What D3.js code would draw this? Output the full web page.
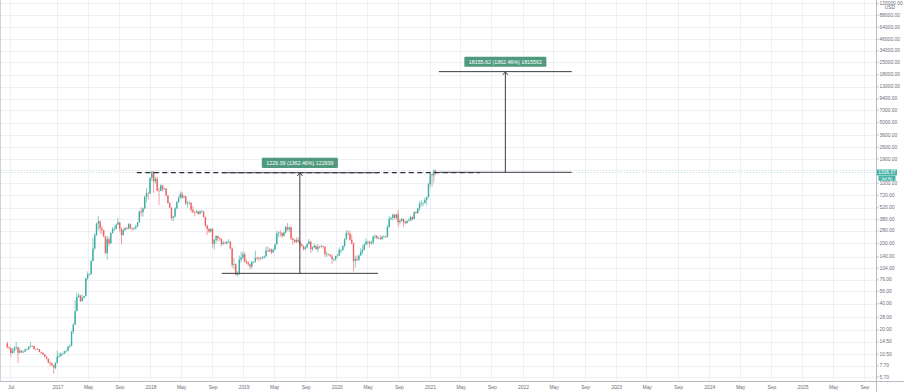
<!DOCTYPE html>
<html><head><meta charset="utf-8">
<script src="https://cdn.jsdelivr.net/npm/d3@7"></script>
<style>html,body{margin:0;padding:0;background:#fff;overflow:hidden}</style>
</head><body><svg id="c" width="904" height="392"></svg>
<script>
// ---------- DATA (ETHUSD weekly, [open, high, low, close]) ----------
const firstWeek = "2016-06-20";
const ohlc2016 = [
[14.0,14.6,12.2,12.6],[12.6,13.0,11.8,12.4],[12.4,12.4,9.8,10.8],[10.8,12.3,10.6,11.5],
[11.5,13.0,10.8,12.3],[12.3,14.5,11.8,12.6],[12.6,12.8,8.3,10.9],[10.9,12.3,10.7,11.5],
[11.5,11.7,10.8,11.0],[11.0,11.5,10.8,11.2],[11.2,12.2,11.0,11.8],[11.8,12.2,11.6,11.9],
[11.9,13.0,11.8,12.8],[12.8,14.5,12.5,13.1],[13.1,13.3,12.8,13.0],[13.0,13.1,11.8,12.0],
[12.0,12.2,11.7,11.9],[11.9,12.3,11.8,12.0],[12.0,12.0,11.0,11.1],[11.1,11.2,10.4,10.9],
[10.9,11.0,10.2,10.4],[10.4,10.5,9.6,9.8],[9.8,9.9,9.1,9.3],[9.3,9.3,8.2,8.4],
[8.4,8.6,7.6,8.2],[8.2,8.3,7.6,7.8],[7.8,7.9,6.2,7.3],[7.3,8.5,7.0,8.3]];
const ohlc2017 = [
[8.3,11.5,8.2,9.8],[9.8,10.8,9.5,9.9],[9.9,11.0,9.8,10.6],[10.6,10.8,10.4,10.6],
[10.6,11.5,10.6,11.3],[11.3,11.6,10.9,11.4],[11.4,13.0,11.3,12.8],[12.8,13.5,12.4,13.1],
[13.1,19.5,13.0,19.0],[19.0,24.0,18.0,23.0],[23.0,44.0,23.0,33.0],[33.0,54.0,33.0,48.0],
[48.0,53.0,47.0,50.0],[50.0,51.0,42.0,43.0],[43.0,51.0,43.0,47.0],[47.0,49.0,46.0,49.0],
[49.0,80.0,49.0,79.0],[79.0,95.0,75.0,88.0],[88.0,90.0,85.0,88.0],[88.0,130.0,88.0,125.0],
[125.0,230.0,125.0,175.0],[175.0,265.0,170.0,250.0],[250.0,345.0,245.0,340.0],[340.0,415.0,285.0,360.0],
[360.0,370.0,260.0,300.0],[300.0,320.0,255.0,285.0],[285.0,290.0,235.0,240.0],[240.0,245.0,150.0,155.0],
[155.0,245.0,130.0,225.0],[225.0,240.0,185.0,200.0],[200.0,270.0,200.0,265.0],[265.0,310.0,260.0,295.0],
[295.0,320.0,280.0,295.0],[295.0,340.0,290.0,330.0],[330.0,395.0,330.0,350.0],[350.0,355.0,270.0,295.0],
[295.0,305.0,195.0,250.0],[250.0,300.0,250.0,285.0],[285.0,310.0,280.0,300.0],[300.0,310.0,290.0,297.0],
[297.0,345.0,295.0,335.0],[335.0,340.0,290.0,300.0],[300.0,305.0,280.0,298.0],[298.0,310.0,285.0,300.0],
[300.0,330.0,290.0,315.0],[315.0,355.0,310.0,350.0],[350.0,480.0,350.0,470.0],[470.0,525.0,410.0,460.0],
[460.0,520.0,410.0,510.0],[510.0,720.0,500.0,690.0],[690.0,880.0,600.0,760.0],[760.0,790.0,640.0,755.0]];
const ohlc2018 = [
[755,1160,750,1150],[1150,1375,1050,1360],[1360,1370,770,1050],[1050,1180,990,1120],
[1120,1180,810,815],[815,880,560,810],[810,970,810,940],[940,950,800,855],
[855,885,830,860],[860,880,700,720],[720,730,580,590],[590,600,510,520],
[520,525,370,395],[395,420,360,410],[410,530,400,510],[510,620,500,600],
[600,715,590,670],[670,800,660,750],[750,790,660,680],[680,720,670,700],
[700,710,560,580],[580,620,520,580],[580,625,570,590],[590,600,460,490],
[490,545,450,460],[460,470,410,455],[455,490,450,470],[470,480,430,440],
[440,485,435,470],[470,490,455,470],[470,470,400,405],[405,410,310,320],
[320,330,250,295],[295,300,265,275],[275,300,270,295],[295,300,180,198],
[198,225,170,220],[220,250,200,245],[245,245,210,230],[230,235,215,225],
[225,230,185,196],[196,215,195,204],[204,210,198,200],[200,212,195,210],
[210,225,205,210],[210,212,170,175],[175,180,105,113],[113,135,100,115],
[115,118,85,87],[87,95,83,88],[88,145,87,130],[130,160,120,138],[138,162,130,150]];
const ohlc2019 = [
[150,160,120,125],[125,130,115,120],[120,125,110,115],[115,117,100,108],
[108,125,102,122],[122,125,118,123],[123,165,120,136],[136,140,130,135],
[135,140,125,133],[133,140,130,135],[135,142,132,138],[138,145,133,142],
[142,185,140,165],[165,185,160,162],[162,178,160,170],[170,175,150,158],
[158,175,155,170],[170,200,168,195],[195,280,195,262],[262,275,235,268],
[268,285,240,265],[265,270,230,245],[245,275,240,268],[268,320,260,310],
[310,345,280,290],[290,315,270,307],[307,315,220,228],[228,235,195,220],
[220,225,205,207],[207,235,204,220],[220,235,205,210],[210,215,178,195],
[195,200,185,187],[187,190,165,172],[172,185,168,180],[180,200,175,197],
[197,225,195,210],[210,215,155,172],[172,185,163,180],[180,200,178,188],
[188,190,170,172],[172,198,158,183],[183,190,175,182],[182,195,180,185],
[185,190,175,183],[183,185,140,150],[150,160,140,151],[151,152,145,148],
[148,150,140,142],[142,150,116,132],[132,135,124,132],[132,145,125,143]];
const ohlc2020 = [
[143,150,138,145],[145,180,143,168],[168,172,155,168],[168,190,165,188],
[188,230,180,225],[225,285,220,265],[265,285,245,260],[260,280,215,220],
[220,255,195,200],[200,205,95,125],[125,145,105,133],[133,145,125,130],
[130,150,125,145],[145,175,145,160],[160,190,150,170],[170,200,165,195],
[195,230,190,210],[210,215,195,210],[210,215,180,200],[200,215,195,205],
[205,245,195,240],[240,255,225,245],[245,250,225,230],[230,240,225,230],
[230,250,220,225],[225,245,220,240],[240,250,235,240],[240,245,230,238],
[238,330,235,310],[310,415,305,385],[385,405,370,395],[395,445,370,430],
[430,440,385,395],[395,440,375,435],[435,490,310,352],[352,385,330,365],
[365,395,360,385],[385,390,310,355],[355,370,335,345],[345,375,338,365],
[365,395,360,368],[368,420,365,405],[405,412,370,385],[385,470,380,460],
[460,480,440,450],[450,520,440,510],[510,620,480,575],[575,635,535,585],
[585,600,540,590],[590,680,575,640],[640,700,550,685],[685,1010,680,975]];
const ohlc2021 = [
[975,1350,890,1268],[1268,1290,920,1230],[1230,1440,1010,1390],[1390,1440,1250,1326]];

const yTickValues = [120000,88000,64000,46000,34000,25000,18000,13000,9400,7000,5000,3600,2600,1900,1400,1000,720,520,380,280,200,140,104,76,56,40,28,20,14.5,10.5,7.7,5.7];
const yTicksCovered = [1400]; // hidden behind the last-price tag
const xTickDates = ["2016-07-01",
 "2017-01-01","2017-05-01","2017-09-01","2018-01-01","2018-05-01","2018-09-01",
 "2019-01-01","2019-05-01","2019-09-01","2020-01-01","2020-05-01","2020-09-01",
 "2021-01-01","2021-05-01","2021-09-01","2022-01-01","2022-05-01","2022-09-01",
 "2023-01-01","2023-05-01","2023-09-01","2024-01-01","2024-05-01","2024-09-01",
 "2025-01-01","2025-05-01","2025-09-01"];
const xTickLabels = ["Jul","2017","May","Sep","2018","May","Sep","2019","May","Sep",
 "2020","May","Sep","2021","May","Sep","2022","May","Sep","2023","May","Sep",
 "2024","May","Sep","2025","May","Sep"];
const currency = "USD";
const lastPrice = 1326.37;
const countdown = "5d 9h";
const dashedLevel = {from:"2017-11-10", to:"2021-07-17", price:1319.62};
const range1 = {from:"2018-10-09", to:"2020-06-13", low:90.23, high:1319.62, label:"1229.39 (1362.46%) 122939"};
const range2 = {from:"2021-02-07", to:"2022-07-13", low:1332.55, high:19488.17, label:"18155.62 (1362.46%) 1815562"};

// ---------- BUILD ----------
const parse = d3.utcParse("%Y-%m-%d");
const allRows = [].concat(ohlc2016, ohlc2017, ohlc2018, ohlc2019, ohlc2020, ohlc2021);
const start = parse(firstWeek);
const candles = allRows.map((r,i)=>({date:d3.utcWeek.offset(start,i), o:r[0], h:r[1], l:r[2], c:r[3]}));

const W = 904, H = 392, plotR = 876, plotB = 381;
const x = d3.scaleUtc().domain([parse("2017-01-01"), parse("2025-01-01")]).range([57, 802]);
const y = d3.scaleLog().domain([5.7, 1900]).range([377, 159]);

const svg = d3.select("#c");
const font = "'Liberation Sans', Arial, sans-serif";
svg.append("rect").attr("width",W).attr("height",H).attr("fill","#fff");

const defs = svg.append("defs");
defs.append("clipPath").attr("id","plot").append("rect").attr("x",0).attr("y",0).attr("width",plotR).attr("height",plotB);

// grid
const grid = svg.append("g").attr("clip-path","url(#plot)");
grid.selectAll("line.h").data(yTickValues).join("line")
  .attr("x1",0).attr("x2",plotR).attr("y1",d=>Math.round(y(d))+0.5).attr("y2",d=>Math.round(y(d))+0.5)
  .attr("stroke","#eef0f4").attr("stroke-width",1);
grid.selectAll("line.v").data(xTickDates).join("line")
  .attr("y1",0).attr("y2",plotB).attr("x1",d=>Math.round(x(parse(d)))+0.5).attr("x2",d=>Math.round(x(parse(d)))+0.5)
  .attr("stroke","#eef0f4").attr("stroke-width",1);

// axes lines
svg.append("line").attr("x1",0.5).attr("x2",0.5).attr("y1",0).attr("y2",plotB).attr("stroke","#cfd2d8");
svg.append("line").attr("x1",0).attr("x2",W).attr("y1",plotB+0.5).attr("y2",plotB+0.5).attr("stroke","#b8bbc2");
svg.append("line").attr("x1",plotR+0.5).attr("x2",plotR+0.5).attr("y1",0).attr("y2",H).attr("stroke","#b8bbc2");

// last price line
const plot = svg.append("g").attr("clip-path","url(#plot)");
plot.append("line").attr("x1",0).attr("x2",plotR).attr("y1",y(lastPrice)).attr("y2",y(lastPrice))
  .attr("stroke","#26a69a").attr("stroke-opacity",0.3).attr("stroke-dasharray","1 2").attr("stroke-width",1);

// candles
const up = "#26a69a", down = "#ef5350";
const cg = plot.append("g").attr("opacity",0.9);
cg.selectAll("line.wick").data(candles).join("line")
  .attr("x1",d=>x(d.date)).attr("x2",d=>x(d.date))
  .attr("y1",d=>y(d.h)).attr("y2",d=>y(d.l))
  .attr("stroke",d=>d.c>=d.o?up:down).attr("stroke-width",0.6);
cg.selectAll("rect.body").data(candles).join("rect")
  .attr("x",d=>x(d.date)-0.7).attr("width",1.4)
  .attr("y",d=>y(Math.max(d.o,d.c)))
  .attr("height",d=>Math.max(0.6, y(Math.min(d.o,d.c))-y(Math.max(d.o,d.c))))
  .attr("fill",d=>d.c>=d.o?up:down);

// dashed level
plot.append("line")
  .attr("x1",x(parse(dashedLevel.from))).attr("x2",x(parse(dashedLevel.to)))
  .attr("y1",y(dashedLevel.price)).attr("y2",y(dashedLevel.price))
  .attr("stroke","#2a2e39").attr("stroke-width",1.3).attr("stroke-dasharray","5 3.5");

// price ranges
function drawRange(r){
  const g = plot.append("g");
  const x1 = x(parse(r.from)), x2 = x(parse(r.to)), xm = (x1+x2)/2;
  const yl = y(r.low), yh = y(r.high);
  const st = "#3a3d45";
  g.append("line").attr("x1",x1).attr("x2",x2).attr("y1",yl).attr("y2",yl).attr("stroke",st).attr("stroke-width",1);
  g.append("line").attr("x1",x1).attr("x2",x2).attr("y1",yh).attr("y2",yh).attr("stroke",st).attr("stroke-width",1);
  g.append("line").attr("x1",xm).attr("x2",xm).attr("y1",yl).attr("y2",yh).attr("stroke",st).attr("stroke-width",1);
  g.append("path").attr("d",`M${xm-2.6},${yh+3.2}L${xm},${yh+0.3}L${xm+2.6},${yh+3.2}`)
    .attr("fill","none").attr("stroke",st).attr("stroke-width",1);
  const t = g.append("text").attr("x",xm).attr("y",yh-9.8).attr("text-anchor","middle")
    .attr("dominant-baseline","central").attr("font-family",font).attr("font-size",5.3)
    .attr("fill","#fff").text(r.label);
  const tw = t.node().getComputedTextLength();
  g.insert("rect","text").attr("x",xm-tw/2-4.5).attr("width",tw+9).attr("y",yh-15).attr("height",10.2)
    .attr("rx",1.2).attr("fill","#4f9a7f");
}
drawRange(range1);
drawRange(range2);

// y-axis labels
const ya = svg.append("g").attr("font-family",font).attr("font-size",4.9).attr("fill","#6a6d78");
yTickValues.forEach(v=>{
  const yy = y(v);
  ya.append("line").attr("x1",plotR).attr("x2",plotR+2.5).attr("y1",yy).attr("y2",yy).attr("stroke","#b8bbc2");
  if (yTicksCovered.includes(v)) return;
  ya.append("text").attr("x",879.5).attr("y",yy).attr("dominant-baseline","central").text(d3.format(".2f")(v));
});
// currency label at top
ya.append("rect").attr("x",877).attr("y",5.2).attr("width",27).attr("height",5).attr("fill","#fff");
ya.append("text").attr("x",890).attr("y",7.8).attr("text-anchor","middle").attr("dominant-baseline","central").text(currency);

// last price + countdown labels
const ly = y(lastPrice);
svg.append("rect").attr("x",877).attr("y",ly-3).attr("width",20).attr("height",6).attr("fill","#26a69a").attr("opacity",0.85);
svg.append("text").attr("x",887).attr("y",ly).attr("text-anchor","middle").attr("dominant-baseline","central")
  .attr("font-family",font).attr("font-size",4.8).attr("fill","#fff").text(d3.format(".2f")(lastPrice));
svg.append("rect").attr("x",878.5).attr("y",ly+3.3).attr("width",17).attr("height",5).attr("fill","#26a69a").attr("opacity",0.85);
svg.append("text").attr("x",887).attr("y",ly+5.8).attr("text-anchor","middle").attr("dominant-baseline","central")
  .attr("font-family",font).attr("font-size",4.4).attr("fill","#fff").text(countdown);

// x-axis labels
const xa = svg.append("g").attr("font-family",font).attr("font-size",4.9).attr("fill","#6a6d78");
xTickDates.forEach((d,i)=>{
  xa.append("text").attr("x",x(parse(d))+1).attr("y",387.3).attr("text-anchor","middle")
    .attr("dominant-baseline","central").text(xTickLabels[i]);
});
</script></body></html>
